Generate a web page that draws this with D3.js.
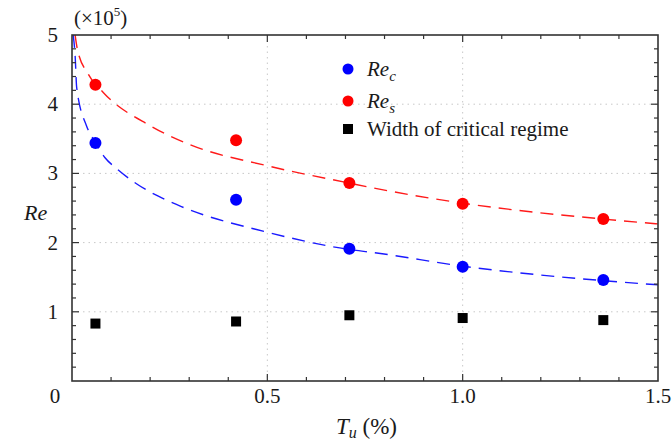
<!DOCTYPE html>
<html><head><meta charset="utf-8">
<script src="https://cdn.jsdelivr.net/npm/d3@7"></script>
<style>
body{margin:0;background:#fff}
svg{display:block}
</style>
</head><body>
<svg id="c" width="672" height="444"></svg>
<script>
// Data (Re in units of 1e5)
const tu = [0.06, 0.42, 0.71, 1.0, 1.36];
const reC = [3.44, 2.62, 1.91, 1.65, 1.46];
const reS = [4.28, 3.48, 2.86, 2.56, 2.34];
const widthCrit = [0.83, 0.86, 0.95, 0.91, 0.88];
// Fitted curves
const fitCx = [0.003, 0.008, 0.012, 0.037, 0.055, 0.084, 0.114, 0.165, 0.221, 0.28, 0.5, 0.71, 0.78, 1.0, 1.36, 1.5];
const fitCy = [5.0, 4.7, 4.24, 3.69, 3.49, 3.23, 3.07, 2.85, 2.67, 2.52, 2.15, 1.90, 1.85, 1.66, 1.45, 1.39];
const fitSx = [0.008, 0.0136, 0.042, 0.08, 0.2, 0.3, 0.5, 0.71, 0.78, 1.0, 1.36, 1.5];
const fitSy = [5.0, 4.80, 4.43, 4.17, 3.69, 3.42, 3.11, 2.86, 2.78, 2.57, 2.34, 2.27];
const xTickVals = [0.5, 1.0, 1.5];
const xTickLabels = ["0.5", "1.0", "1.5"];
const yTickVals = [1, 2, 3, 4, 5];
const yTickLabels = ["1", "2", "3", "4", "5"];

// pick an installed serif font
const cands = ["Liberation Serif", "Times New Roman", "Tinos", "DejaVu Serif", "Noto Serif", "FreeSerif", "Nimbus Roman"];
const cv = document.createElement("canvas").getContext("2d");
function w(f) { cv.font = "20px " + f; return cv.measureText("Width of critical regime 0.5").width; }
let fam = "serif";
for (const c of cands) {
  if (w(`"${c}", monospace`) !== w("monospace") || w(`"${c}", sans-serif`) !== w("sans-serif")) { fam = `"${c}", serif`; break; }
}

const svg = d3.select("#c").attr("font-family", fam);
const L = 72, R = 658, T = 35, B = 381;
const x = d3.scaleLinear().domain([0, 1.5]).range([L, R]);
const y = d3.scaleLinear().domain([0, 5]).range([B, T]);
const axisColor = "#333";
const txt = "#1a1a1a";

// grid
const g = svg.append("g");
g.selectAll(".gy").data([1,2,3,4]).enter().append("line")
  .attr("x1", L).attr("x2", R).attr("y1", d => y(d)).attr("y2", d => y(d))
  .attr("stroke", "#c8c8c8").attr("stroke-width", 1).attr("stroke-dasharray", "1.5,4");
g.selectAll(".gx").data([0.5, 1.0]).enter().append("line")
  .attr("y1", T).attr("y2", B).attr("x1", d => x(d)).attr("x2", d => x(d))
  .attr("stroke", "#c8c8c8").attr("stroke-width", 1).attr("stroke-dasharray", "1.5,4");

// clip
svg.append("clipPath").attr("id", "clip").append("rect")
  .attr("x", L).attr("y", T).attr("width", R - L).attr("height", B - T);

const line = d3.line().x(d => x(d[0])).y(d => y(d[1])).curve(d3.curveMonotoneX);
const plot = svg.append("g").attr("clip-path", "url(#clip)");
plot.append("path").datum(fitSx.map((v, i) => [v, fitSy[i]]))
  .attr("d", line).attr("fill", "none").attr("stroke", "#ff1a1a")
  .attr("stroke-width", 1.4).attr("stroke-dasharray", "13,8");
plot.append("path").datum(fitCx.map((v, i) => [v, fitCy[i]]))
  .attr("d", line).attr("fill", "none").attr("stroke", "#1a1aff")
  .attr("stroke-width", 1.4).attr("stroke-dasharray", "13,8");

// points
svg.append("g").selectAll("circle").data(tu.map((v, i) => [v, reS[i]])).enter()
  .append("circle").attr("cx", d => x(d[0])).attr("cy", d => y(d[1])).attr("r", 6).attr("fill", "#ff0000");
svg.append("g").selectAll("circle").data(tu.map((v, i) => [v, reC[i]])).enter()
  .append("circle").attr("cx", d => x(d[0])).attr("cy", d => y(d[1])).attr("r", 6).attr("fill", "#0000ff");
svg.append("g").selectAll("rect").data(tu.map((v, i) => [v, widthCrit[i]])).enter()
  .append("rect").attr("x", d => x(d[0]) - 5).attr("y", d => y(d[1]) - 5)
  .attr("width", 10).attr("height", 10).attr("fill", "#000");

// inward ticks on all four sides
const xMinor = d3.range(1, 15).map(i => i / 10);
const yMinor = d3.range(1, 25).map(i => i / 5);
const minorLen = 4, majorLen = 7;
function tickLines(vals, orient) {
  const gg = svg.append("g");
  vals.forEach(v => {
    const horiz = orient === "b" || orient === "t";
    const major = horiz ? Math.abs(v * 2 - Math.round(v * 2)) < 1e-6 : Math.abs(v - Math.round(v)) < 1e-6;
    const len = major ? majorLen : minorLen;
    let x1, x2, y1, y2;
    if (orient === "b") { x1 = x2 = x(v); y1 = B; y2 = B - len; }
    if (orient === "t") { x1 = x2 = x(v); y1 = T; y2 = T + len; }
    if (orient === "l") { y1 = y2 = y(v); x1 = L; x2 = L + len; }
    if (orient === "r") { y1 = y2 = y(v); x1 = R; x2 = R - len; }
    gg.append("line").attr("x1", x1).attr("x2", x2).attr("y1", y1).attr("y2", y2)
      .attr("stroke", axisColor).attr("stroke-width", 1.2);
  });
}
tickLines(xMinor, "b"); tickLines(xMinor, "t");
tickLines(yMinor, "l"); tickLines(yMinor, "r");

// frame
svg.append("rect").attr("x", L).attr("y", T).attr("width", R - L).attr("height", B - T)
  .attr("fill", "none").attr("stroke", axisColor).attr("stroke-width", 1.6);

// tick labels
svg.append("g").selectAll("text").data(xTickVals).enter().append("text")
  .attr("x", d => x(d)).attr("y", B + 22).attr("text-anchor", "middle").attr("fill", txt)
  .attr("font-size", 21).text((d, i) => xTickLabels[i]);
svg.append("g").selectAll("text").data(yTickVals).enter().append("text")
  .attr("x", L - 14).attr("y", d => y(d) + 7).attr("text-anchor", "end").attr("fill", txt)
  .attr("font-size", 21).text((d, i) => yTickLabels[i]);
svg.append("text").attr("x", L - 17).attr("y", B + 22).attr("text-anchor", "middle").attr("fill", txt)
  .attr("font-size", 21).text("0");

// multiplier
const m = svg.append("text").attr("x", 74).attr("y", 25).attr("font-size", 21).attr("fill", txt);
m.append("tspan").text("(×10");
m.append("tspan").attr("font-size", 13).attr("dy", -9).text("5");
m.append("tspan").attr("dy", 9).text(")");

// axis titles
svg.append("text").attr("x", 24).attr("y", 220).attr("font-size", 22).attr("font-style", "italic").attr("fill", txt).text("Re");
const xt = svg.append("text").attr("x", 336).attr("y", 434).attr("font-size", 23).attr("fill", txt);
xt.append("tspan").attr("font-style", "italic").text("T");
xt.append("tspan").attr("font-style", "italic").attr("font-size", 16).attr("dy", 4).text("u");
xt.append("tspan").attr("dy", -4).text(" (%)");

// legend
const lg = svg.append("g");
const lx = 348, ly = [69, 101, 129];
lg.append("circle").attr("cx", lx).attr("cy", ly[0]).attr("r", 5.5).attr("fill", "#0000ff");
lg.append("circle").attr("cx", lx).attr("cy", ly[1]).attr("r", 5.5).attr("fill", "#ff0000");
lg.append("rect").attr("x", lx - 5).attr("y", ly[2] - 5).attr("width", 10).attr("height", 10).attr("fill", "#000");
const t1 = lg.append("text").attr("x", 367).attr("y", ly[0] + 7).attr("font-size", 21).attr("font-style", "italic").attr("fill", txt);
t1.append("tspan").text("Re");
t1.append("tspan").attr("font-size", 15).attr("dy", 5).text("c");
const t2 = lg.append("text").attr("x", 367).attr("y", ly[1] + 7).attr("font-size", 21).attr("font-style", "italic").attr("fill", txt);
t2.append("tspan").text("Re");
t2.append("tspan").attr("font-size", 15).attr("dy", 5).text("s");
lg.append("text").attr("x", 367).attr("y", ly[2] + 7).attr("font-size", 21).attr("fill", txt).text("Width of critical regime");
</script>
</body></html>
